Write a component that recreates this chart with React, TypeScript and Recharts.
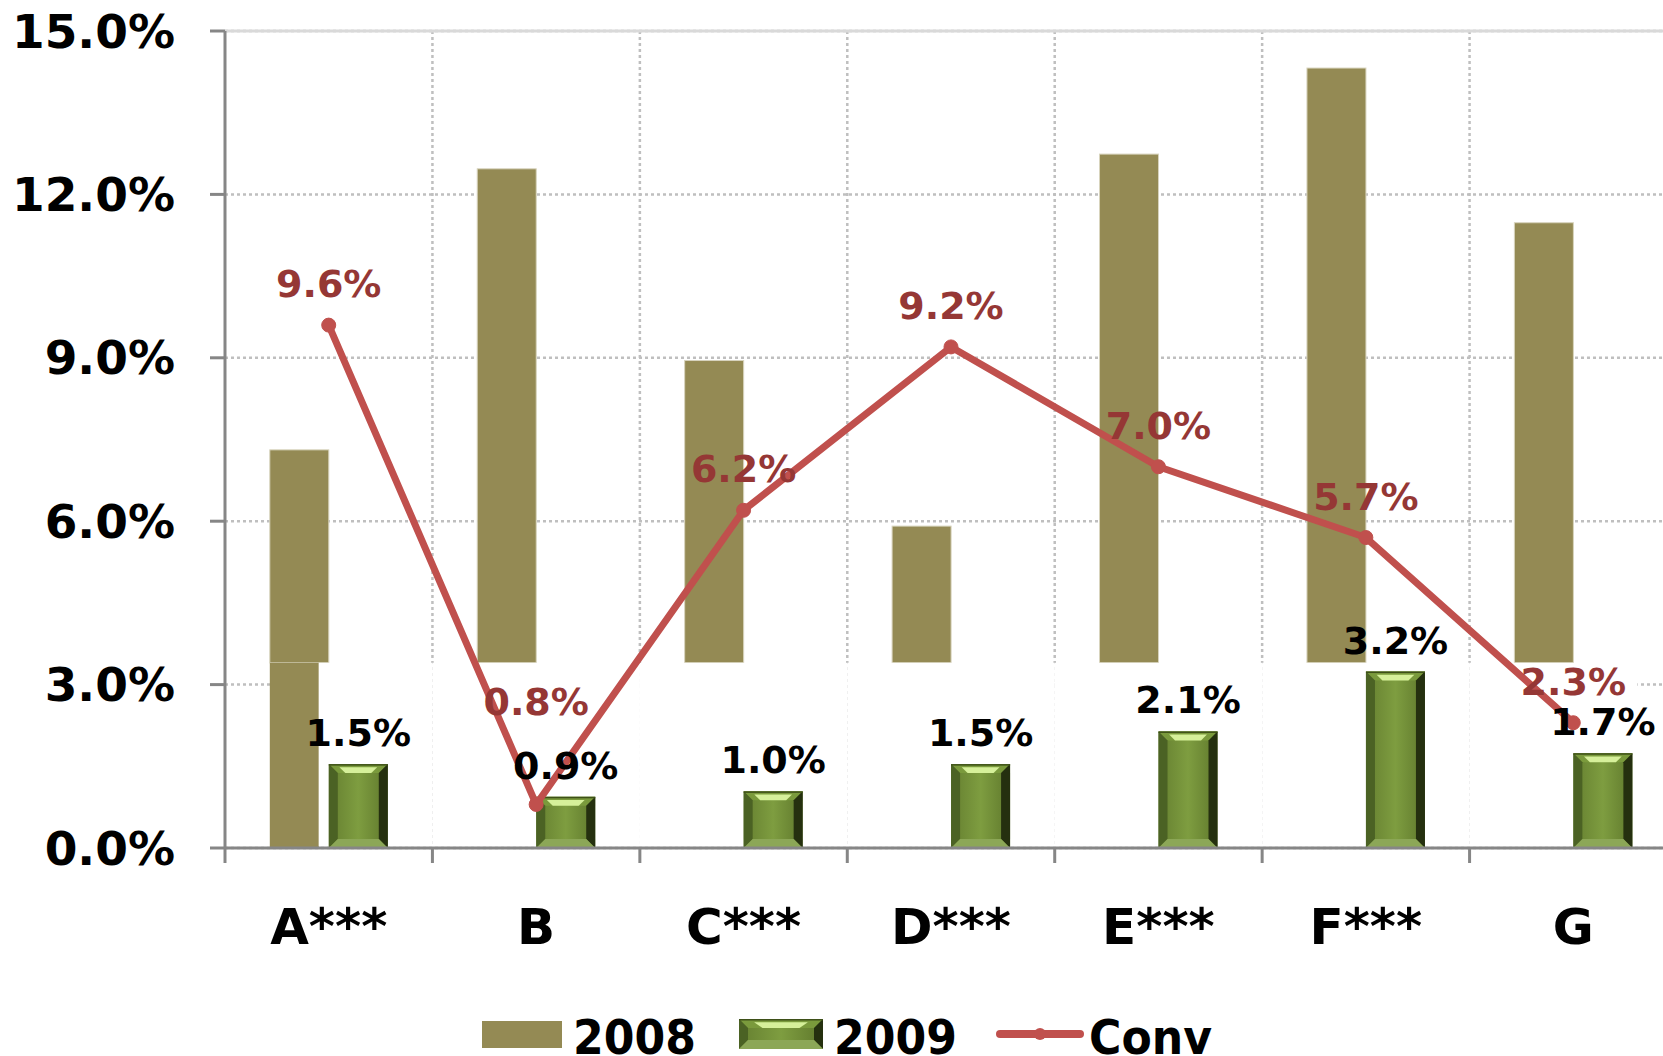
import React from "react";
import {
  Bar,
  CartesianGrid,
  ComposedChart,
  LabelList,
  Legend,
  Line,
  ReferenceLine,
  XAxis,
  YAxis,
} from "recharts";

const categories = ["A***", "B", "C***", "D***", "E***", "F***", "G"];
const values2008 = [7.31, 12.47, 8.95, 5.91, 12.74, 14.32, 11.48];
const values2009 = [1.54, 0.94, 1.04, 1.54, 2.14, 3.24, 1.74];
const valuesConv = [9.6, 0.8, 6.2, 9.2, 7.0, 5.7, 2.3];
const yTicks = [0, 3, 6, 9, 12, 15];

const data = categories.map((cat, i) => ({
  cat,
  y2008: values2008[i],
  y2009: values2009[i],
  conv: valuesConv[i],
}));

const FONT = "'DejaVu Sans', Verdana, sans-serif";
const CHART_W = 1700;
const CHART_H = 1056;
const Y_W = 225;
const MARGIN = { top: 31, right: 23, left: 0, bottom: 0 };
const BAND = (CHART_W - Y_W - MARGIN.right) / categories.length;
// the pasted 2009 picture hides the lower part of the plot up to this value
const CUT = 3.4;

const OLIVE = "#948A54";
const RED = "#C0504D";
const AXIS = "#868686";

const pct = (v: number) => `${v.toFixed(1)}%`;

function Bar2008Shape(props: any) {
  const { x, y, width, height, index, payload } = props;
  const base = y + height;
  const cut = base - (CUT * height) / payload.y2008;
  const cx = x + width;
  const left = index === 0 ? cx - 10 : cx - BAND / 2;
  const right = index === categories.length - 1 ? cx + 64 : cx + BAND / 2;
  return (
    <g>
      <rect x={x} y={y} width={width} height={Math.max(0, cut - y)} fill={OLIVE} stroke="#D8D4BE" strokeWidth={1} />
      {index === 0 && (
        <rect x={x} y={cut} width={cx - 10 - x} height={base - cut} fill={OLIVE} />
      )}
      <rect x={left} y={cut} width={right - left} height={base - cut - 2} fill="#fff" />
    </g>
  );
}

function Bevel({ x, y, width, height }: { x: number; y: number; width: number; height: number }) {
  const b = Math.min(9, width / 4, height / 3);
  const r = x + width;
  const btm = y + height;
  return (
    <g>
      <rect x={x} y={y} width={width} height={height} fill="url(#face09)" />
      <polygon points={`${x},${y} ${r},${y} ${r - b},${y + b} ${x + b},${y + b}`} fill="#7A9A3C" />
      <polygon
        points={`${x + width * 0.18},${y + b * 0.35} ${r - width * 0.18},${y + b * 0.35} ${r - width * 0.28},${y + b} ${x + width * 0.28},${y + b}`}
        fill="#D6F09A"
      />
      <polygon points={`${x},${y} ${x + b},${y + b} ${x + b},${btm - b} ${x},${btm}`} fill="#4B6224" />
      <polygon points={`${r},${y} ${r - b},${y + b} ${r - b},${btm - b} ${r},${btm}`} fill="#25300F" />
      <polygon points={`${x},${btm} ${x + b},${btm - b} ${r - b},${btm - b} ${r},${btm}`} fill="#8CA757" />
      <rect x={x} y={y} width={width} height={1.5} fill="#3E5018" />
    </g>
  );
}

function Bar2009Shape(props: any) {
  const { x, y, width, height } = props;
  if (!height || height <= 0) return null;
  return <Bevel x={x} y={y} width={width} height={height} />;
}

function CatTick(props: any) {
  const { x, y, payload, index } = props;
  const half = BAND / 2;
  return (
    <g>
      <line x1={x - half} y1={y} x2={x - half} y2={y + 15} stroke={AXIS} strokeWidth={3} />
      {index === categories.length - 1 && (
        <line x1={x + half} y1={y} x2={x + half} y2={y + 15} stroke={AXIS} strokeWidth={3} />
      )}
      <text
        x={x}
        y={y + 96}
        textAnchor="middle"
        fontSize={50}
        fontWeight="bold"
        fontFamily={FONT}
        fill="#000"
      >
        {payload.value}
      </text>
    </g>
  );
}

function ConvLabel(props: any) {
  const x = props.x ?? props.viewBox?.x;
  const y = props.y ?? props.viewBox?.y;
  const lift = props.index === 1 ? 89 : 28;
  return (
    <text
      x={x}
      y={y - lift}
      textAnchor="middle"
      fontSize={38}
      fontWeight="bold"
      fontFamily={FONT}
      fill="#953735"
    >
      {pct(Number(props.value))}
    </text>
  );
}

function LegendContent() {
  const txt = (label: string, x: number) => (
    <text
      transform={`translate(${x},44) scale(0.92,1)`}
      fontSize={48}
      fontWeight="bold"
      fontFamily={FONT}
      fill="#000"
    >
      {label}
    </text>
  );
  return (
    <svg width={1663} height={60} style={{ display: "block", overflow: "visible" }}>
      <rect x={482} y={11} width={80} height={27} fill={OLIVE} />
      {txt("2008", 573)}
      <Bevel x={739} y={9} width={84} height={30} />
      {txt("2009", 834)}
      <line x1={1000} y1={24} x2={1080} y2={24} stroke={RED} strokeWidth={8} strokeLinecap="round" />
      <circle cx={1040} cy={24} r={6} fill={RED} />
      {txt("Conv", 1089)}
    </svg>
  );
}

export default function App() {
  return (
    <div
      style={{
        position: "absolute",
        left: 0,
        top: 0,
        width: 1663,
        height: 1056,
        overflow: "hidden",
        background: "#fff",
      }}
    >
      <ComposedChart
        width={CHART_W}
        height={CHART_H}
        data={data}
        margin={MARGIN}
        barCategoryGap="21.6%"
        barGap={0}
      >
        <defs>
          <linearGradient id="face09" x1="0" y1="0" x2="1" y2="0">
            <stop offset="0%" stopColor="#657F30" />
            <stop offset="50%" stopColor="#7E9D40" />
            <stop offset="100%" stopColor="#5F782C" />
          </linearGradient>
        </defs>

        <CartesianGrid
          stroke="#BFBFBF"
          strokeWidth={2.5}
          strokeDasharray="3 3"
          verticalCoordinatesGenerator={({ offset }: any) =>
            categories.map((_, i) => offset.left + (i + 1) * (offset.width / categories.length))
          }
        />
        <ReferenceLine y={15} stroke="#D9D9D9" strokeWidth={3} />

        <XAxis
          dataKey="cat"
          height={208}
          tickSize={0}
          tickMargin={0}
          tickLine={false}
          axisLine={{ stroke: AXIS, strokeWidth: 3 }}
          tick={<CatTick />}
          interval={0}
        />
        <YAxis
          width={Y_W}
          domain={[0, 15]}
          ticks={yTicks}
          tickFormatter={pct}
          tickSize={15}
          tickMargin={35}
          axisLine={{ stroke: AXIS, strokeWidth: 3 }}
          tickLine={{ stroke: AXIS, strokeWidth: 3 }}
          tick={{ fontSize: 47, fontWeight: "bold", fontFamily: FONT, fill: "#000" }}
        />

        <Bar dataKey="y2008" name="2008" fill={OLIVE} shape={<Bar2008Shape />} isAnimationActive={false} />
        <Bar dataKey="y2009" name="2009" fill="#77933C" shape={<Bar2009Shape />} isAnimationActive={false}>
          <LabelList
            dataKey="y2009"
            position="top"
            offset={18}
            formatter={(v: any) => pct(Number(v))}
            style={{ fontSize: 38, fontWeight: "bold", fontFamily: FONT, fill: "#000" }}
          />
        </Bar>
        <Line
          dataKey="conv"
          name="Conv"
          stroke={RED}
          strokeWidth={7}
          strokeLinejoin="round"
          dot={{ r: 7, fill: RED, stroke: RED, strokeWidth: 1 }}
          activeDot={false}
          isAnimationActive={false}
          label={<ConvLabel />}
        />

        <Legend
          layout="horizontal"
          align="center"
          verticalAlign="middle"
          wrapperStyle={{ left: 0, top: 1010, width: 1663, height: 46 }}
          content={<LegendContent />}
        />
      </ComposedChart>
    </div>
  );
}
